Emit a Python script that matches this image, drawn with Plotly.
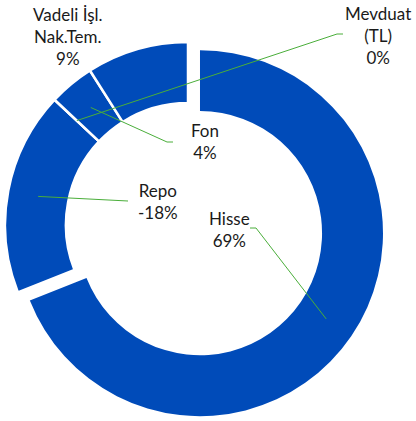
import math
import plotly.graph_objects as go

# data
labels = ["Hisse", "Repo", "Mevduat (TL)", "Fon", "Vadeli İşl. Nak.Tem."]
label_text = ["Hisse", "Repo", "Mevduat<br>(TL)", "Fon", "Vadeli İşl.<br>Nak.Tem."]
shares = [69, -18, 0, 4, 9]

# styling / geometry (pixels in a 416x421 canvas)
W, H = 416, 421
BLUE = "#004bb9"
GREEN = "#4aae3a"
CENTER = (188, 225)
RADIUS = 183
HOLE = 0.667
PULL_PX = [14.5, 0, 0, 0, 0]
label_xy = [(229, 229), (158, 201), (378, 36), (205, 141), (68, 37)]
# leader line: start, elbow (None = no leader)
leader = [((250, 228), (256, 228)),
          ((128, 201), (128, 201)),
          ((343, 34), (337, 34)),
          ((173, 142), (167, 142)),
          None]

sizes = [abs(v) for v in shares]
total = sum(sizes)


def px(x, y):
    return x / W, 1 - y / H


def mid_angle(i):
    before = sum(sizes[:i])
    return math.radians((before + sizes[i] / 2) / total * 360)


def slice_center(i):
    a = mid_angle(i)
    return CENTER[0] + PULL_PX[i] * math.sin(a), CENTER[1] - PULL_PX[i] * math.cos(a)


def domain(cx, cy):
    x0, y1 = px(cx - RADIUS, cy - RADIUS)
    x1, y0 = px(cx + RADIUS, cy + RADIUS)
    return dict(x=[x0, x1], y=[y0, y1])


fig = go.Figure()

# main ring (everything except the exploded slice)
colors1 = ["rgba(0,0,0,0)" if p else BLUE for p in PULL_PX]
widths1 = [0 if p else 2.5 for p in PULL_PX]
fig.add_trace(go.Pie(labels=labels, values=sizes, sort=False, direction="clockwise",
                     rotation=0, hole=HOLE, textinfo="none", hoverinfo="label+percent",
                     marker=dict(colors=colors1, line=dict(color="white", width=widths1)),
                     domain=domain(*CENTER), showlegend=False))

# exploded slice(s)
for i, p in enumerate(PULL_PX):
    if not p:
        continue
    colors2 = [BLUE if j == i else "rgba(0,0,0,0)" for j in range(len(sizes))]
    fig.add_trace(go.Pie(labels=labels, values=sizes, sort=False, direction="clockwise",
                         rotation=0, hole=HOLE, textinfo="none", hoverinfo="skip",
                         marker=dict(colors=colors2, line=dict(width=0)),
                         domain=domain(*slice_center(i)), showlegend=False))

# labels and leader lines
r_mid = RADIUS * (1 + HOLE) / 2
for i, name in enumerate(label_text):
    lx, ly = px(*label_xy[i])
    fig.add_annotation(x=lx, y=ly, xref="paper", yref="paper", showarrow=False,
                       xanchor="center", yanchor="middle",
                       text=f"{name}<br>{shares[i]}%", align="center",
                       font=dict(family="Lato", size=17, color="#1a1a1a"))
    if leader[i] is None:
        continue
    cx, cy = slice_center(i)
    a = mid_angle(i)
    tx, ty = cx + r_mid * math.sin(a), cy - r_mid * math.cos(a)
    (ax, ay), (bx, by) = leader[i]
    pts = [px(ax, ay), px(bx, by), px(tx, ty)]
    path = "M {} {} L {} {} L {} {}".format(*[c for p in pts for c in p])
    fig.add_shape(type="path", xref="paper", yref="paper", path=path,
                  line=dict(color=GREEN, width=1))

fig.update_layout(width=W, height=H, margin=dict(l=0, r=0, t=0, b=0),
                  paper_bgcolor="white", plot_bgcolor="white")

# drop the default page margin so the 416x421 figure fills the window
fig.write_html("out.html", config={"displayModeBar": False},
               post_script="document.body.style.margin='0';")
